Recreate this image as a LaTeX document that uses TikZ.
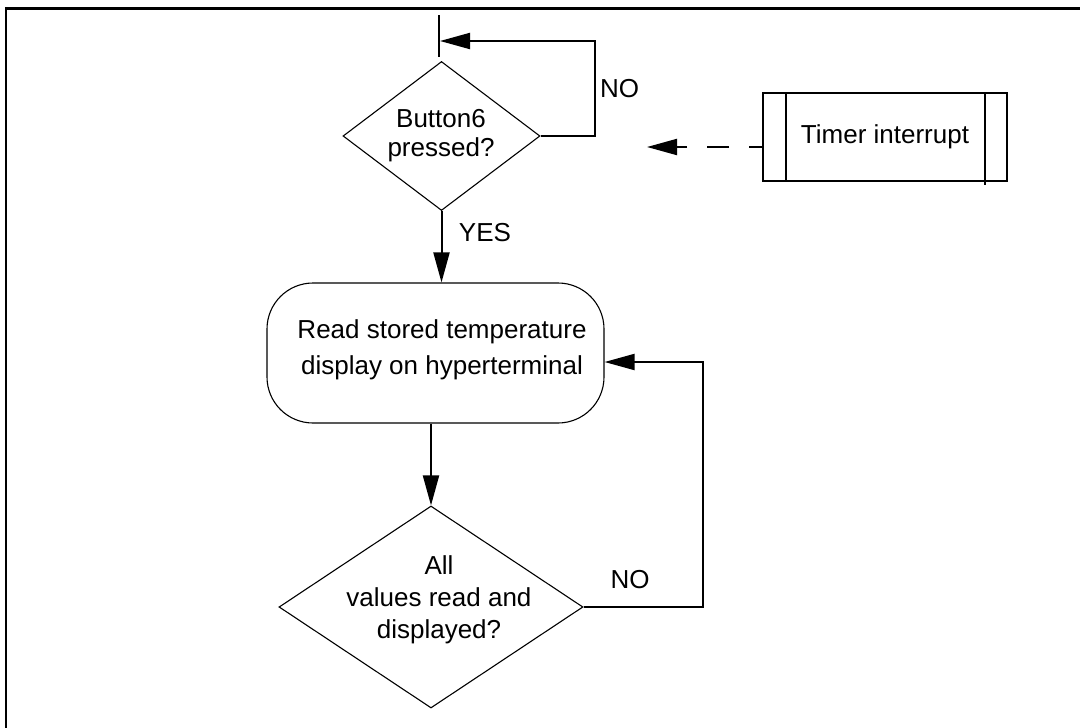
\documentclass[tikz,border=0pt]{standalone}
\usepackage{fontspec}
\setmainfont{Liberation Sans}
\usetikzlibrary{arrows.meta,shapes.geometric}
\begin{document}
\begin{tikzpicture}[x=1pt,y=-1pt,
  txt/.style={inner sep=0pt, align=center},
  conn/.style={line width=2pt},
  arrowline/.style={line width=2pt, -{Triangle[length=30pt,width=16pt]}},
  dasharrow/.style={line width=2pt, dash pattern=on 22pt off 20pt, dash phase=9pt, -{Triangle[length=30pt,width=16pt]}},
  decision/.style={draw, diamond, line width=1.1pt, inner sep=0pt},
  process/.style={draw, rectangle, rounded corners=46pt, line width=1.1pt, inner sep=0pt},
  interrupt/.style={draw, rectangle, line width=2pt, inner sep=0pt, minimum width=244pt, minimum height=88pt},
  framebox/.style={line width=2.6pt}
]
\useasboundingbox (0,0) rectangle (1080,728);
\draw[framebox] (6,740) -- (6,8.5) -- (1090,8.5);

% top decision
\node[decision, minimum width=197pt, minimum height=149pt] (d1) at (441.5,136) {};
\node[txt, font=\fontsize{26}{29}\selectfont] (t1) at (441,135.5) {Button6\\pressed?};

% entry line at the top
\coordinate (in1) at (439,15);
\coordinate (in2) at (439,57);
\draw[conn] (in1) -- (in2);
\coordinate (loopR) at (595,41);
\coordinate (tip1) at (440,41);
\draw[arrowline] (d1.east) -| (loopR) -- (tip1);
\node[txt, font=\fontsize{26}{30}\selectfont] (no1) at (619.5,88.5) {NO};

% timer interrupt
\node[interrupt, font=\fontsize{26}{30}\selectfont] (timer) at (885,137) {Timer interrupt};
\draw[line width=2pt] ([xshift=23.5pt]timer.north west) -- ([xshift=23.5pt]timer.south west);
\draw[line width=2pt] ([xshift=-23pt]timer.north east) -- ([xshift=-23pt,yshift=-3pt]timer.south east);
\coordinate (dashend) at (647,147);
\draw[dasharrow] (timer.west |- dashend) -- (dashend);

% process box
\node[process, minimum width=337pt, minimum height=140pt] (rb) at (435.5,353) {};
\node[txt, font=\fontsize{26}{36}\selectfont] (t2) at (442,350) {Read stored temperature\\display on hyperterminal};
\draw[arrowline] (d1.south) -- (d1.south |- rb.north);
\node[txt, font=\fontsize{26}{30}\selectfont] (yes) at (485,232.5) {YES};

% bottom decision
\node[decision, minimum width=304pt, minimum height=202pt] (d2) at (431,607) {};
\node[txt, font=\fontsize{26}{32}\selectfont] (t3) at (439,600) {All\\values read and\\displayed?};
\draw[arrowline] (d2.north |- rb.south) -- (d2.north);

% feedback loop
\coordinate (fb) at (703,362);
\draw[arrowline] (d2.east) -| (fb) -- (fb -| rb.east);
\node[txt, font=\fontsize{26}{30}\selectfont] (no2) at (630,580) {NO};
\end{tikzpicture}
\end{document}
